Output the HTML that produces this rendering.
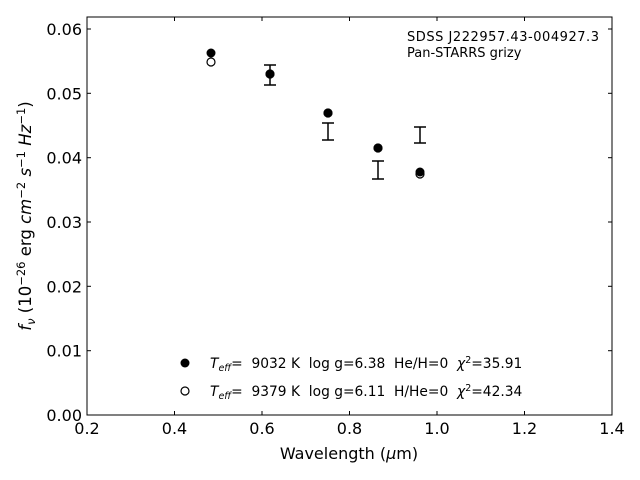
<!DOCTYPE html>
<html><head><meta charset="utf-8"><style>body{margin:0;background:#fff}svg{display:block}text{font-family:"DejaVu Sans","Liberation Sans",sans-serif;fill:#000;white-space:pre}</style></head><body>
<svg width="640" height="480" viewBox="0 0 640 480" xmlns="http://www.w3.org/2000/svg" xml:space="preserve">
<rect width="640" height="480" fill="#fff"/>
<rect x="87" y="17" width="525" height="398" fill="none" stroke="#000" stroke-width="1"/>
<g stroke="#000" stroke-width="1">
<line x1="87" y1="415" x2="87" y2="411"/><line x1="174.5" y1="415" x2="174.5" y2="411"/><line x1="262" y1="415" x2="262" y2="411"/><line x1="349.5" y1="415" x2="349.5" y2="411"/><line x1="437" y1="415" x2="437" y2="411"/><line x1="524.5" y1="415" x2="524.5" y2="411"/>
<line x1="174.5" y1="17" x2="174.5" y2="21"/><line x1="262" y1="17" x2="262" y2="21"/><line x1="349.5" y1="17" x2="349.5" y2="21"/><line x1="437" y1="17" x2="437" y2="21"/><line x1="524.5" y1="17" x2="524.5" y2="21"/>
<line x1="87" y1="350.7" x2="91" y2="350.7"/><line x1="87" y1="286.3" x2="91" y2="286.3"/><line x1="87" y1="222" x2="91" y2="222"/><line x1="87" y1="157.7" x2="91" y2="157.7"/><line x1="87" y1="93.3" x2="91" y2="93.3"/><line x1="87" y1="29" x2="91" y2="29"/>
<line x1="612" y1="350.7" x2="608" y2="350.7"/><line x1="612" y1="286.3" x2="608" y2="286.3"/><line x1="612" y1="222" x2="608" y2="222"/><line x1="612" y1="157.7" x2="608" y2="157.7"/><line x1="612" y1="93.3" x2="608" y2="93.3"/><line x1="612" y1="29" x2="608" y2="29"/>
</g>
<g font-size="16" text-anchor="middle">
<text x="87" y="434">0.2</text><text x="174.5" y="434">0.4</text><text x="262" y="434">0.6</text><text x="349.5" y="434">0.8</text><text x="437" y="434">1.0</text><text x="524.5" y="434">1.2</text><text x="612" y="434">1.4</text>
</g>
<g font-size="16" text-anchor="end">
<text x="82" y="421">0.00</text><text x="82" y="356.7">0.01</text><text x="82" y="292.3">0.02</text><text x="82" y="228">0.03</text><text x="82" y="163.7">0.04</text><text x="82" y="99.3">0.05</text><text x="82" y="35">0.06</text>
</g>
<text x="349" y="459" font-size="16" text-anchor="middle">Wavelength (<tspan font-style="italic">μ</tspan>m)</text>
<text transform="translate(31,216) rotate(-90)" font-size="16.5" text-anchor="middle"><tspan font-style="italic">f</tspan><tspan font-size="11.5" dy="4" font-style="italic">ν</tspan><tspan dy="-4"> (10</tspan><tspan font-size="11.5" dy="-6">−26</tspan><tspan dy="6"> erg </tspan><tspan font-style="italic">cm</tspan><tspan font-size="11.5" dy="-6">−2</tspan><tspan dy="6" font-style="italic"> s</tspan><tspan font-size="11.5" dy="-6">−1</tspan><tspan dy="6" font-style="italic"> Hz</tspan><tspan font-size="11.5" dy="-6">−1</tspan><tspan dy="6">)</tspan></text>
<g stroke="#000" stroke-width="1.5">
<line x1="270" y1="65" x2="270" y2="85"/><line x1="264" y1="65" x2="276" y2="65"/><line x1="264" y1="85" x2="276" y2="85"/>
<line x1="328" y1="123" x2="328" y2="140"/><line x1="322" y1="123" x2="334" y2="123"/><line x1="322" y1="140" x2="334" y2="140"/>
<line x1="378" y1="161" x2="378" y2="179"/><line x1="372" y1="161" x2="384" y2="161"/><line x1="372" y1="179" x2="384" y2="179"/>
<line x1="420" y1="127" x2="420" y2="143"/><line x1="414" y1="127" x2="426" y2="127"/><line x1="414" y1="143" x2="426" y2="143"/>
</g>
<g fill="#fff" stroke="#000" stroke-width="1.2">
<circle cx="211" cy="62" r="4"/><circle cx="270" cy="74" r="4"/><circle cx="328" cy="113" r="4"/><circle cx="378" cy="148" r="4"/><circle cx="420" cy="174" r="4"/>
<circle cx="185" cy="391" r="4"/>
</g>
<g fill="#000">
<circle cx="211" cy="53" r="4.5"/><circle cx="270" cy="74" r="4.5"/><circle cx="328" cy="113" r="4.5"/><circle cx="378" cy="148" r="4.5"/><circle cx="420" cy="172" r="4.5"/>
<circle cx="185" cy="363" r="4.5"/>
</g>
<g font-size="13">
<text x="407" y="41" textLength="192">SDSS J222957.43-004927.3</text>
<text x="407" y="57">Pan-STARRS grizy</text>
<text x="210" y="368" font-size="13.8"><tspan font-style="italic">T</tspan><tspan font-size="9.5" dy="3" font-style="italic">eff</tspan><tspan dy="-3">=  9032 K  log g=6.38  He/H=0  </tspan><tspan font-style="italic">χ</tspan><tspan font-size="9.5" dy="-5">2</tspan><tspan dy="5">=35.91</tspan></text>
<text x="210" y="396" font-size="13.8"><tspan font-style="italic">T</tspan><tspan font-size="9.5" dy="3" font-style="italic">eff</tspan><tspan dy="-3">=  9379 K  log g=6.11  H/He=0  </tspan><tspan font-style="italic">χ</tspan><tspan font-size="9.5" dy="-5">2</tspan><tspan dy="5">=42.34</tspan></text>
</g>
</svg>
</body></html>
